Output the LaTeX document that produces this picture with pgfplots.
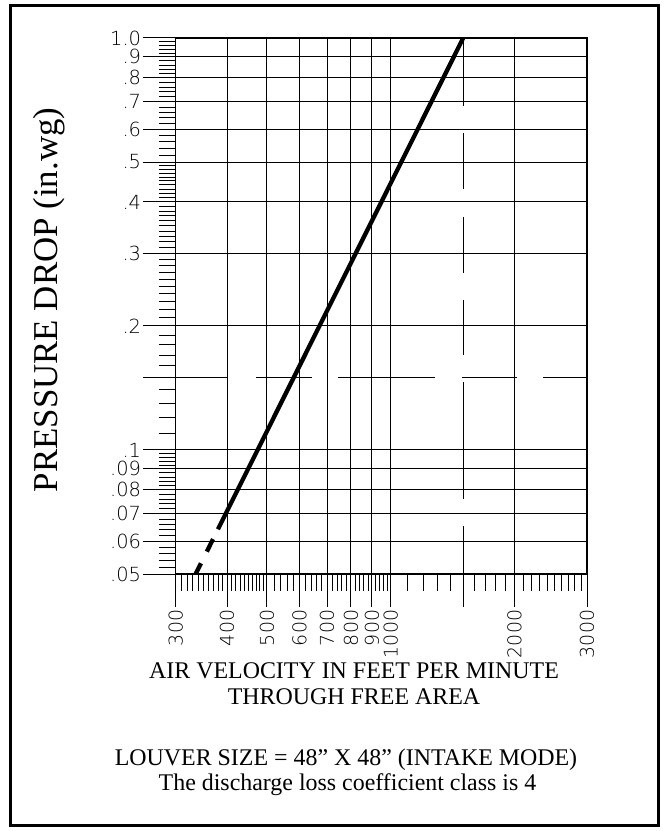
\documentclass[border=0pt]{standalone}
\usepackage{fontspec}
\usepackage{pgfplots}
\pgfplotsset{compat=1.18}
\setmainfont{Liberation Serif}
\IfFontExistsTF{DejaVu Sans ExtraLight}{%
  \newfontfamily\xtickfont[LetterSpace=3]{DejaVu Sans ExtraLight}%
  \newfontfamily\ytickfont{DejaVu Sans ExtraLight}%
}{%
  \newfontfamily\xtickfont[LetterSpace=3]{DejaVu Sans}%
  \newfontfamily\ytickfont{DejaVu Sans}%
}
\begin{document}
\begin{tikzpicture}[x=1bp,y=1bp]
\path[use as bounding box] (0,0) rectangle (665,831);
\draw[line width=3bp] (10,5) rectangle (658,825);
\begin{axis}[
  at={(175.7bp,257bp)}, anchor=south west,
  scale only axis, width=411.3bp, height=536bp,
  xmode=log, ymode=log,
  xmin=300, xmax=3000, ymin=0.05, ymax=1,
  axis line style={line width=1.3bp, black},
  tick pos=left, tick align=outside,
  major tick length=33bp, minor tick length=17bp,
  major tick style={line width=1bp, black},
  minor tick style={line width=0.8bp, black},
  grid=major, major grid style={line width=1bp, black},
  xtick={300,400,500,600,700,800,900,1000,2000,3000},
  xticklabels={300,400,500,600,700,800,900,1000,2000,3000},
  minor xtick={310,320,330,340,350,360,370,380,390,
    410,420,430,440,450,460,470,480,490,
    520,540,560,580,620,640,660,680,720,740,760,780,
    820,840,860,880,920,940,960,980,
    1100,1200,1300,1400,1600,1700,1800,1900,
    2100,2200,2300,2400,2500,2600,2700,2800,2900},
  extra x ticks={1500}, extra x tick labels={},
  extra x tick style={grid=none},
  ytick={0.05,0.06,0.07,0.08,0.09,0.1,0.2,0.3,0.4,0.5,0.6,0.7,0.8,0.9,1.0},
  yticklabels={.05,.06,.07,.08,.09,.1,.2,.3,.4,.5,.6,.7,.8,.9,1.0},
  minor ytick={0.052,0.054,0.056,0.058,0.062,0.064,0.066,0.068,
    0.072,0.074,0.076,0.078,0.082,0.084,0.086,0.088,
    0.092,0.094,0.096,0.098,
    0.11,0.12,0.13,0.14,0.16,0.17,0.18,0.19,
    0.21,0.22,0.23,0.24,0.25,0.26,0.27,0.28,0.29,
    0.31,0.32,0.33,0.34,0.35,0.36,0.37,0.38,0.39,
    0.41,0.42,0.43,0.44,0.45,0.46,0.47,0.48,0.49,
    0.52,0.54,0.56,0.58,0.62,0.64,0.66,0.68,
    0.72,0.74,0.76,0.78,0.82,0.84,0.86,0.88,
    0.92,0.94,0.96,0.98},
  extra y ticks={0.15}, extra y tick labels={},
  extra y tick style={grid=none},
  xticklabel style={rotate=90, anchor=east, inner sep=2bp,
    font=\xtickfont\fontsize{19}{19}\selectfont},
  yticklabel style={anchor=east, inner sep=1.5bp,
    font=\ytickfont\fontsize{19.5}{19.5}\selectfont},
]
\draw[line width=1bp, black,
  dash pattern=on 68bp off 27bp on 56bp off 28bp on 56bp off 27bp on 55bp off 27bp on 117bp off 27bp on 48bp off 100bp]
  (axis cs:1500,1) -- (axis cs:1500,0.05);
\draw[line width=1bp, black,
  dash pattern=on 52.3bp off 28bp on 56bp off 26bp on 97bp off 27bp on 55bp off 26bp on 44bp off 100bp]
  (axis cs:300,0.15) -- (axis cs:3000,0.15);
\addplot[black, line width=4.3bp, line cap=butt,
  dash pattern=on 12bp off 13bp on 14bp off 14bp]
  coordinates {(335.4,0.05) (380,0.0642)};
\addplot[black, line width=4.3bp, line cap=butt, line join=round]
  coordinates {(380,0.0642) (500,0.1111) (600,0.16) (800,0.2844) (1000,0.4444) (1200,0.64) (1500,1.0)};
\end{axis}
\node[rotate=90, anchor=base, font=\fontsize{35}{35}\selectfont] at (57,531) {PRESSURE DROP (in.wg)};
\node[anchor=base, font=\fontsize{24}{24}\selectfont] at (354,152) {AIR VELOCITY IN FEET PER MINUTE};
\node[anchor=base, font=\fontsize{24}{24}\selectfont] at (354,126) {THROUGH FREE AREA};
\node[anchor=base, font=\fontsize{24}{24}\selectfont] at (346,65) {LOUVER SIZE = 48” X 48” (INTAKE MODE)};
\node[anchor=base, font=\fontsize{24}{24}\selectfont] at (347.5,40) {The discharge loss coefficient class is 4};
\end{tikzpicture}
\end{document}
